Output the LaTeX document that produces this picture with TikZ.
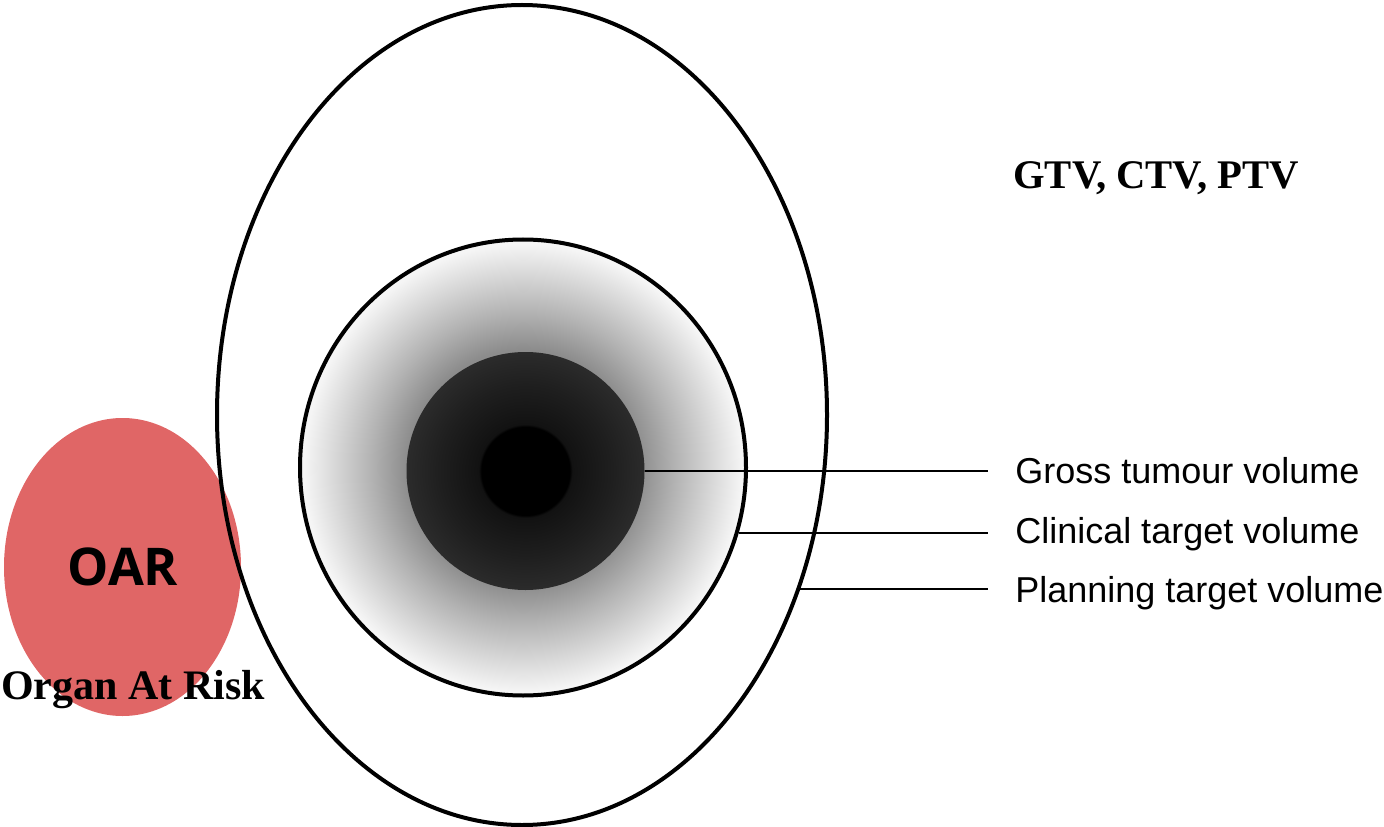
\documentclass[tikz,border=0pt]{standalone}
\usepackage{fontspec}
\setmainfont{Liberation Serif}
\newfontfamily\labfont{Liberation Sans}
\newfontfamily\oarfont{Open Sans}
\usetikzlibrary{shapes.geometric}
\definecolor{oarred}{RGB}{224,102,102}
\pgfdeclareradialshading{ctvshade}{\pgfpoint{0bp}{0bp}}{%
  color(0bp)=(black!55); color(13bp)=(black!45); color(17bp)=(black!30);
  color(21bp)=(black!16); color(24.5bp)=(black!4); color(50bp)=(black!4)}
\pgfdeclareradialshading{gtvshade}{\pgfpoint{0bp}{0bp}}{%
  color(0bp)=(black); color(9.3bp)=(black); color(9.8bp)=(black!93);
  color(18bp)=(black!88); color(25bp)=(black!83); color(50bp)=(black!83)}
\tikzset{
  vol/.style={ellipse, draw=black, line width=3pt, inner sep=0pt},
  lead/.style={line width=1.5pt},
  lab/.style={anchor=west, inner xsep=20.25pt, inner ysep=0pt, font=\labfont\fontsize{27}{30}\selectfont},
}
\begin{document}
\begin{tikzpicture}[x=0.75pt, y=-0.75pt]
\useasboundingbox (0,0) rectangle (1384,827);
% OAR
\node[ellipse, fill=oarred, minimum width=177.75pt, minimum height=223.5pt, inner sep=0pt] (oar) at (122.5,567) {};
% volumes
\node[vol, minimum width=457.5pt, minimum height=615pt] (ptv) at (522,415) {};
\node[vol, shading=ctvshade, minimum width=334.5pt, minimum height=342pt] (ctv) at (523,467.5) {};
\node[ellipse, inner sep=0pt, shading=gtvshade, minimum size=178.5pt] (gtv) at (525.5,471) {};
% labels
\node[font=\bfseries\fontsize{30.5}{34}\selectfont, anchor=west, inner sep=0pt] (title) at (1013,178) {GTV, CTV, PTV};
\node[lab] (gtvlab) at (988,471) {Gross tumour volume};
\node[lab] (ctvlab) at (988,534) {Clinical target volume};
\node[lab] (ptvlab) at (988,593) {Planning target volume};
\node[font=\oarfont\bfseries\fontsize{39}{44}\selectfont, inner sep=0pt] (oartext) at (123,567) {OAR};
\node[font=\bfseries\fontsize{31.5}{36}\selectfont, inner sep=0pt, anchor=west] (oarname) at (1,690) {Organ At Risk};
% leaders
\draw[lead] (gtv.east) -- (gtv.east -| gtvlab.west);
\draw[lead] (ctv.-17.1) -- (ctv.-17.1 -| ctvlab.west);
\draw[lead] (ptv.-32.9) -- (ptv.-32.9 -| ptvlab.west);
\end{tikzpicture}
\end{document}
